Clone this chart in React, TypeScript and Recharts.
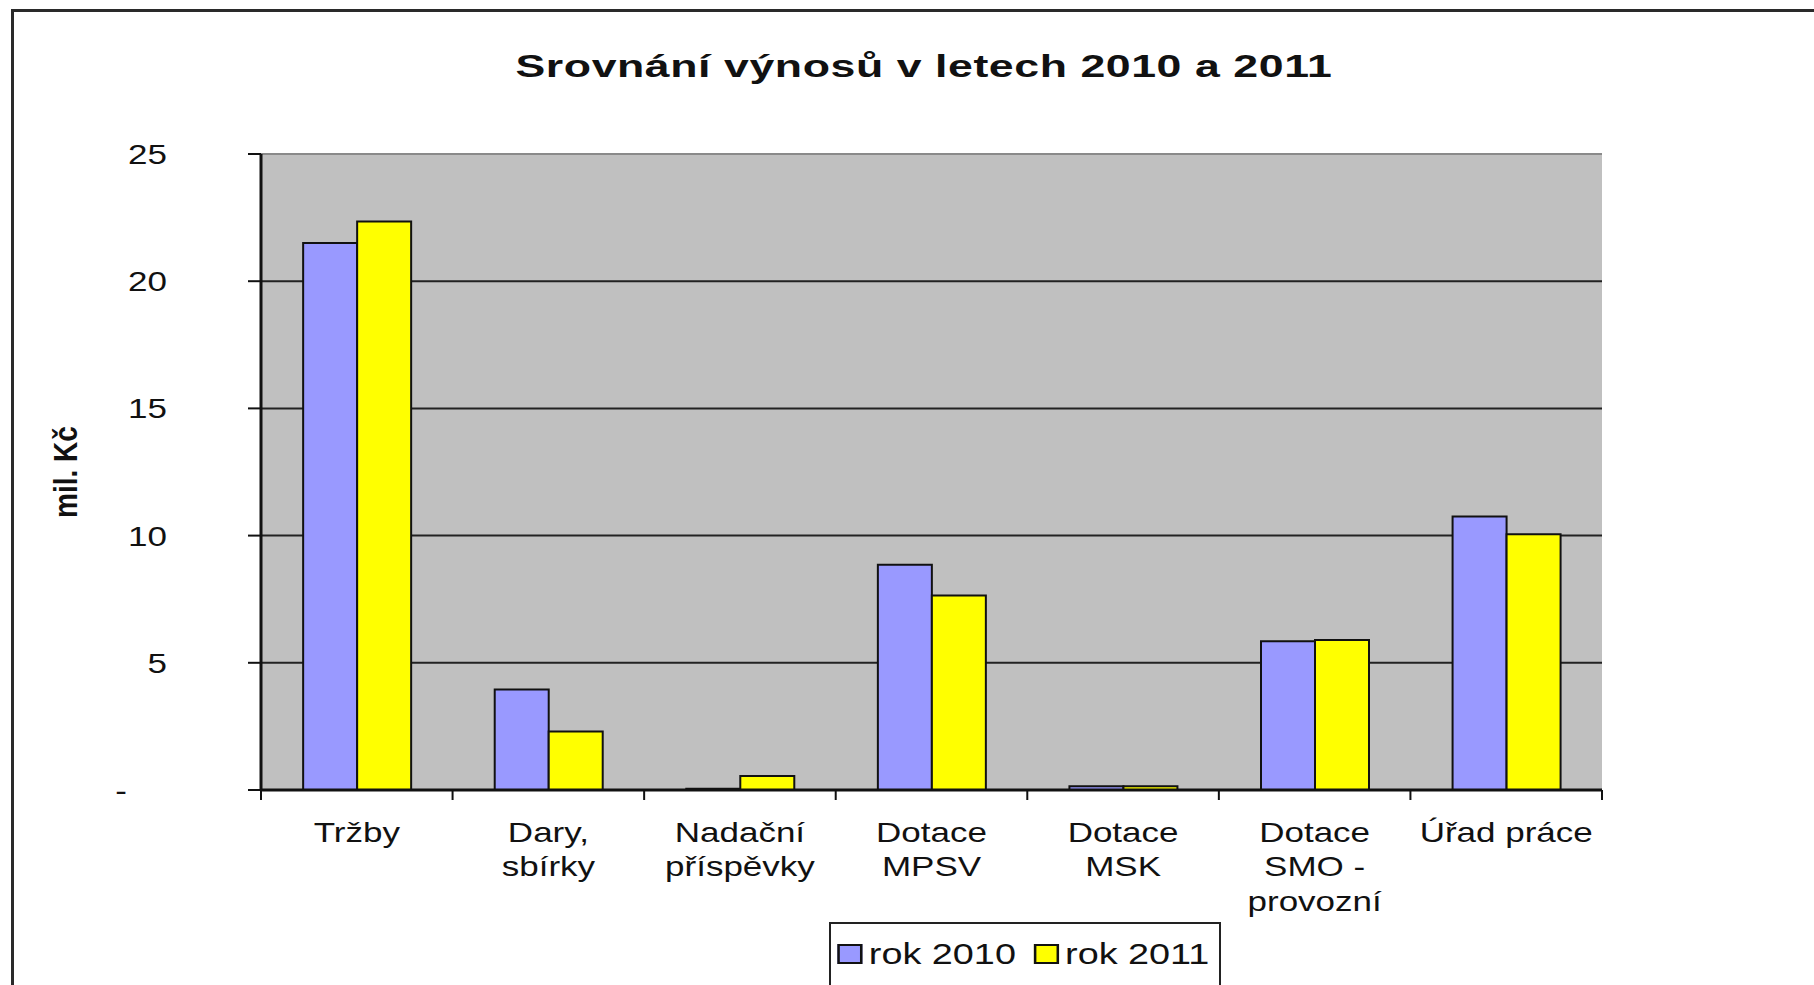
import { BarChart, Bar, XAxis, YAxis, CartesianGrid, Legend } from "recharts";

const categories = [
  "Tržby",
  "Dary,\nsbírky",
  "Nadační\npříspěvky",
  "Dotace\nMPSV",
  "Dotace\nMSK",
  "Dotace\nSMO -\nprovozní",
  "Úřad práce",
];
const rok2010 = [21.5, 3.95, 0.05, 8.85, 0.15, 5.85, 10.75];
const rok2011 = [22.35, 2.3, 0.55, 7.65, 0.15, 5.9, 10.05];
const yTicks = [0, 5, 10, 15, 20, 25];

const data = categories.map((name, i) => ({ name, r2010: rok2010[i], r2011: rok2011[i] }));

const FONT = "'Liberation Sans', Arial, Helvetica, sans-serif";
const SX = 1.25; // source image is stretched horizontally

function CategoryTick({ x, y, payload, index, width, visibleTicksCount }: any) {
  const lines = String(payload.value).split("\n");
  // Excel style: tick marks between categories instead of under them
  const half = payload.offset || width / visibleTicksCount / 2;
  const last = index === visibleTicksCount - 1;
  return (
    <g transform={`translate(${x},${y})`}>
      <line x1={-half} y1={0} x2={-half} y2={10} stroke="#111" strokeWidth={2} />
      {last && <line x1={half} y1={0} x2={half} y2={10} stroke="#111" strokeWidth={2} />}
      <text transform={`scale(${SX},1)`} textAnchor="middle" fontFamily={FONT} fontSize={28} fill="#111">
        {lines.map((l, i) => (
          <tspan key={i} x={0} y={52 + i * 34.5}>{l}</tspan>
        ))}
      </text>
    </g>
  );
}

function ValueTick({ x, y, payload }: any) {
  const zero = payload.value === 0;
  return (
    <g transform={`translate(${x},${y})`}>
      <text transform={`scale(${SX},1)`} x={zero ? -32 : 0} y={10} textAnchor="end" fontFamily={FONT} fontSize={28} fill="#111">
        {zero ? "-" : payload.value}
      </text>
    </g>
  );
}

function YLabel({ viewBox }: any) {
  const cy = viewBox.y + viewBox.height / 2;
  return (
    <g transform={`translate(77,${cy}) scale(1.2,1) rotate(-90)`}>
      <text textAnchor="middle" fontFamily={FONT} fontWeight="bold" fontSize={28} fill="#111">mil. Kč</text>
    </g>
  );
}

function LegendBox({ payload }: any) {
  return (
    <div style={{ width: 392, height: 80, border: "2px solid #222", boxSizing: "border-box", background: "#fff", overflow: "hidden" }}>
      <div style={{ transform: "scaleX(1.26)", transformOrigin: "0 0", display: "flex", alignItems: "center", paddingLeft: 5, paddingTop: 13, fontFamily: FONT, fontSize: 30, color: "#111", whiteSpace: "nowrap" }}>
        {(payload || []).map((p: any, i: number) => (
          <span key={i} style={{ display: "flex", alignItems: "center", marginRight: 14 }}>
            <span style={{ display: "inline-block", width: 16, height: 16, border: "2px solid #111", background: p.color, marginRight: 5 }} />
            {p.value}
          </span>
        ))}
      </div>
    </div>
  );
}

function GridLine(p: any) {
  const top = p.y !== undefined && Math.abs(p.y1 - p.y) < 2;
  return <line x1={p.x1} y1={p.y1} x2={p.x2} y2={p.y2} stroke={top ? "#8a8a8a" : "#222"} strokeWidth={2} />;
}

export default function App() {
  return (
    <div style={{ position: "absolute", left: 0, top: 0, width: 1814, height: 985, overflow: "hidden", background: "#fff" }}>
      <div style={{ position: "absolute", left: 11, top: 9, width: 1900, height: 1100, borderLeft: "3px solid #2a2a2a", borderTop: "3px solid #2a2a2a" }} />
      <svg style={{ position: "absolute", left: 0, top: 0 }} width={1814} height={120}>
        <g transform="translate(924,76.5) scale(1.44,1.04)">
          <text textAnchor="middle" fontFamily={FONT} fontWeight="bold" fontSize={31} letterSpacing={0.4} fill="#111">
            Srovnání výnosů v letech 2010 a 2011
          </text>
        </g>
      </svg>
      <div style={{ position: "absolute", left: 0, top: 0 }}>
        <BarChart
          width={1814}
          height={985}
          data={data}
          margin={{ top: 154, right: 212, bottom: 0, left: 0 }}
          barCategoryGap="22%"
          barGap={0}
        >
          <CartesianGrid vertical={false} fill="#c0c0c0" fillOpacity={1} horizontal={GridLine} />
          <XAxis
            dataKey="name"
            interval={0}
            height={195}
            tickSize={0}
            tickMargin={0}
            tickLine={false}
            axisLine={{ stroke: "#111", strokeWidth: 3 }}
            tick={<CategoryTick />}
          />
          <YAxis
            domain={[0, 25]}
            ticks={yTicks}
            interval={0}
            width={261}
            tickSize={13}
            tickMargin={81}
            axisLine={{ stroke: "#111", strokeWidth: 3 }}
            tickLine={{ stroke: "#111", strokeWidth: 2 }}
            tick={<ValueTick />}
            label={<YLabel />}
          />
          <YAxis
            yAxisId="right"
            orientation="right"
            domain={[0, 25]}
            width={0}
            tick={false}
            tickLine={false}
            axisLine={{ stroke: "#8a8a8a", strokeWidth: 2 }}
          />
          <Legend
            layout="horizontal"
            verticalAlign="middle"
            align="center"
            wrapperStyle={{ left: 829, top: 922, width: 392 }}
            content={<LegendBox />}
          />
          <Bar dataKey="r2010" name="rok 2010" fill="#9999ff" stroke="#111" strokeWidth={2} isAnimationActive={false} />
          <Bar dataKey="r2011" name="rok 2011" fill="#ffff00" stroke="#111" strokeWidth={2} isAnimationActive={false} />
        </BarChart>
      </div>
    </div>
  );
}
